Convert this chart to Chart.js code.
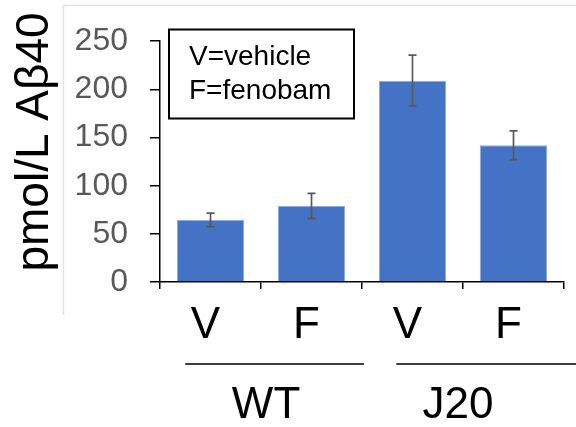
<!DOCTYPE html>
<html>
<head>
<meta charset="utf-8">
<script src="https://cdn.jsdelivr.net/npm/chart.js@4"></script>
<style>
  html, body { margin: 0; padding: 0; background: #fff; }
</style>
</head>
<body>
<canvas id="abChart" width="576" height="427"></canvas>
<script>
const categories = ['V', 'F', 'V', 'F'];
const means = [64.5, 79, 209, 142];
const errors = [7, 13, 26.5, 15];
const groups = ['WT', 'J20'];
const keyLines = ['V=vehicle', 'F=fenobam'];
const yTitle = 'pmol/L A\u03b240';
const yTicks = [0, 50, 100, 150, 200, 250];

const FONT = "'Liberation Sans', Arial, sans-serif";

// frame, error bars, key box, group brackets and axis title
const decorations = {
  id: 'decorations',
  beforeDraw(chart) {
    const ctx = chart.ctx;
    ctx.save();
    ctx.fillStyle = '#fff';
    ctx.fillRect(0, 0, chart.width, chart.height);
    ctx.strokeStyle = '#e2e2e2';
    ctx.lineWidth = 1.5;
    ctx.beginPath();
    ctx.moveTo(63.5, 315);
    ctx.lineTo(63.5, 5.5);
    ctx.lineTo(chart.width, 5.5);
    ctx.stroke();
    ctx.restore();
  },
  afterDatasetsDraw(chart) {
    const ctx = chart.ctx;
    const x = chart.scales.x, y = chart.scales.y;
    ctx.save();
    ctx.strokeStyle = '#595959';
    ctx.lineWidth = 1.7;
    means.forEach((m, i) => {
      const px = x.getPixelForValue(i);
      const top = y.getPixelForValue(m + errors[i]);
      const bot = y.getPixelForValue(m - errors[i]);
      ctx.beginPath();
      ctx.moveTo(px, top); ctx.lineTo(px, bot);
      ctx.moveTo(px - 4, top); ctx.lineTo(px + 4, top);
      ctx.moveTo(px - 4, bot); ctx.lineTo(px + 4, bot);
      ctx.stroke();
    });
    ctx.restore();
  },
  afterDraw(chart) {
    const ctx = chart.ctx;
    const x = chart.scales.x;
    ctx.save();

    // key box
    ctx.fillStyle = '#fff';
    ctx.fillRect(169, 29.5, 185, 89);
    ctx.strokeStyle = '#000';
    ctx.lineWidth = 2;
    ctx.strokeRect(169, 29.5, 185, 89);
    ctx.fillStyle = '#000';
    ctx.font = '28px ' + FONT;
    ctx.textAlign = 'left';
    ctx.textBaseline = 'alphabetic';
    keyLines.forEach((t, i) => ctx.fillText(t, 189, 65 + i * 34));

    // group brackets under the categories
    const spans = [[-0.25, 1.52], [1.84, 3.62]];
    const centers = [0.55, 2.45];
    ctx.lineWidth = 1.5;
    ctx.beginPath();
    spans.forEach(s => {
      ctx.moveTo(x.getPixelForValue(s[0]), 364);
      ctx.lineTo(x.getPixelForValue(s[1]), 364);
    });
    ctx.stroke();
    ctx.font = '44px ' + FONT;
    ctx.textAlign = 'center';
    groups.forEach((g, i) => ctx.fillText(g, x.getPixelForValue(centers[i]), 418));

    // rotated y title
    ctx.font = '46px ' + FONT;
    ctx.translate(48, 142);
    ctx.rotate(-Math.PI / 2);
    ctx.fillText(yTitle, 0, 0);
    ctx.restore();
  }
};

new Chart('abChart', {
  type: 'bar',
  data: {
    labels: categories,
    datasets: [{
      data: means,
      backgroundColor: '#4472c4',
      borderColor: '#8fabdd',
      borderWidth: 1,
      barPercentage: 0.665,
      categoryPercentage: 1
    }]
  },
  options: {
    responsive: false,
    animation: false,
    devicePixelRatio: 1,
    layout: { padding: { left: 0, top: 31, right: 12, bottom: 85 } },
    plugins: { legend: { display: false }, tooltip: { enabled: false } },
    scales: {
      x: {
        afterFit(scale) { scale.height = 60; },
        grid: { drawOnChartArea: false, color: '#000', lineWidth: 1.5, tickLength: 7 },
        border: { color: '#000', width: 1.5 },
        ticks: { color: '#000', font: { family: FONT, size: 44 }, padding: 10, labelOffset: -5 }
      },
      y: {
        min: 0,
        max: 250,
        afterFit(scale) { scale.width = 160; },
        afterBuildTicks(scale) { scale.ticks = yTicks.map(v => ({ value: v })); },
        grid: { drawOnChartArea: false, color: '#000', lineWidth: 1.5, tickLength: 10 },
        border: { color: '#000', width: 1.5 },
        ticks: { color: '#595959', font: { family: FONT, size: 32 }, padding: 22 }
      }
    }
  },
  plugins: [decorations]
});
</script>
</body>
</html>
